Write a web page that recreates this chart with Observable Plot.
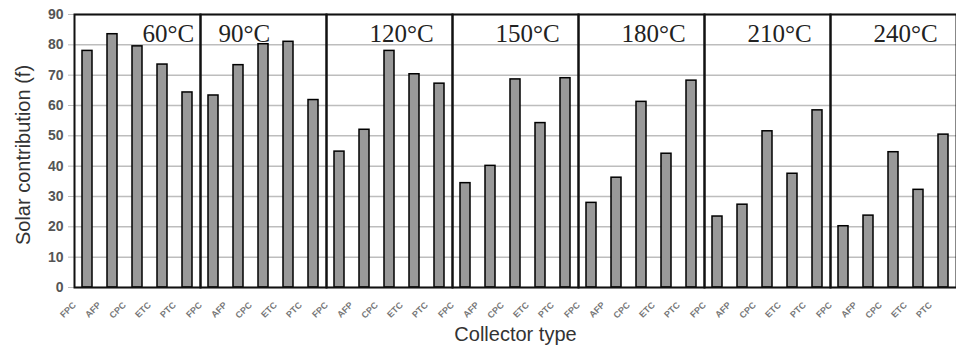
<!DOCTYPE html>
<html>
<head>
<meta charset="utf-8">
<script src="https://cdn.jsdelivr.net/npm/d3@7"></script>
<script src="https://cdn.jsdelivr.net/npm/@observablehq/plot@0.6"></script>
<style>
  html, body { margin: 0; padding: 0; background: #fff; }
</style>
</head>
<body>
<div id="chart"></div>
<script>
const temps = ["60°C", "90°C", "120°C", "150°C", "180°C", "210°C", "240°C"];
const collectors = ["FPC", "AFP", "CPC", "ETC", "PTC"];
// Solar contribution per collector (FPC, AFP, CPC, ETC, PTC) for each temperature
const v60  = [78, 83.5, 79.5, 73.5, 64.3];
const v90  = [63.3, 73.3, 80.2, 81, 61.8];
const v120 = [44.8, 52, 78, 70.3, 67.2];
const v150 = [34.4, 40.1, 68.6, 54.2, 69];
const v180 = [27.9, 36.2, 61.2, 44.1, 68.2];
const v210 = [23.4, 27.3, 51.5, 37.5, 58.4];
const v240 = [20.2, 23.7, 44.6, 32.2, 50.4];
const series = [v60, v90, v120, v150, v180, v210, v240];
const yTicks = [0, 10, 20, 30, 40, 50, 60, 70, 80, 90];
// collector at which each temperature label starts
const labelAt = ["CPC", "FPC", "AFP", "AFP", "AFP", "AFP", "AFP"];

const data = [];
temps.forEach((t, i) => collectors.forEach((c, j) => data.push({temp: t, collector: c, value: series[i][j]})));
const labels = temps.map((t, i) => ({temp: t, collector: labelAt[i]}));

const chart = Plot.plot({
  width: 956,
  height: 355,
  marginLeft: 71,
  marginRight: -3,
  marginTop: 14,
  marginBottom: 68,
  style: {fontFamily: "'Liberation Sans', Arial, sans-serif", background: "#fff"},
  fx: {domain: temps, padding: 0, axis: null, label: null},
  x: {domain: collectors, paddingInner: 0.6, paddingOuter: 0.3, axis: null, label: null},
  y: {domain: [0, 90], label: null},
  marks: [
    Plot.gridY(yTicks, {stroke: "#bdbdbd", strokeOpacity: 1, strokeWidth: 1.5}),
    Plot.axisY(yTicks, {tickSize: 6, tickPadding: 5, stroke: "#bdbdbd", fill: "#555", fontSize: 14, fontWeight: "bold", label: null}),
    Plot.text(data, {fx: "temp", x: "collector", y: () => 0, text: "collector", rotate: -45, textAnchor: "end", lineAnchor: "middle", dx: -13, dy: 16, fill: "#777", fontSize: 9, fontWeight: "bold"}),
    Plot.barY(data, {fx: "temp", x: "collector", y: "value", fill: "#999", stroke: "#000", strokeWidth: 1.5}),
    Plot.frame({stroke: "#111", strokeWidth: 2}),
    Plot.text(labels, {fx: "temp", x: "collector", y: () => 90, text: "temp", textAnchor: "start", lineAnchor: "top", dx: 5, dy: 10, fontFamily: "'Liberation Serif', 'Times New Roman', serif", fontSize: 25, fill: "#222"}),
    Plot.text(["Solar contribution (f)"], {fx: () => temps[0], frameAnchor: "left", text: d => d, rotate: -90, textAnchor: "middle", lineAnchor: "middle", dx: -51, dy: 4, fontSize: 20, fill: "#333"}),
    Plot.text(["Collector type"], {fx: () => temps[3], frameAnchor: "bottom", text: d => d, textAnchor: "middle", dy: 53, fontSize: 20, fill: "#333"})
  ]
});
document.getElementById("chart").appendChild(chart);
</script>
</body>
</html>
